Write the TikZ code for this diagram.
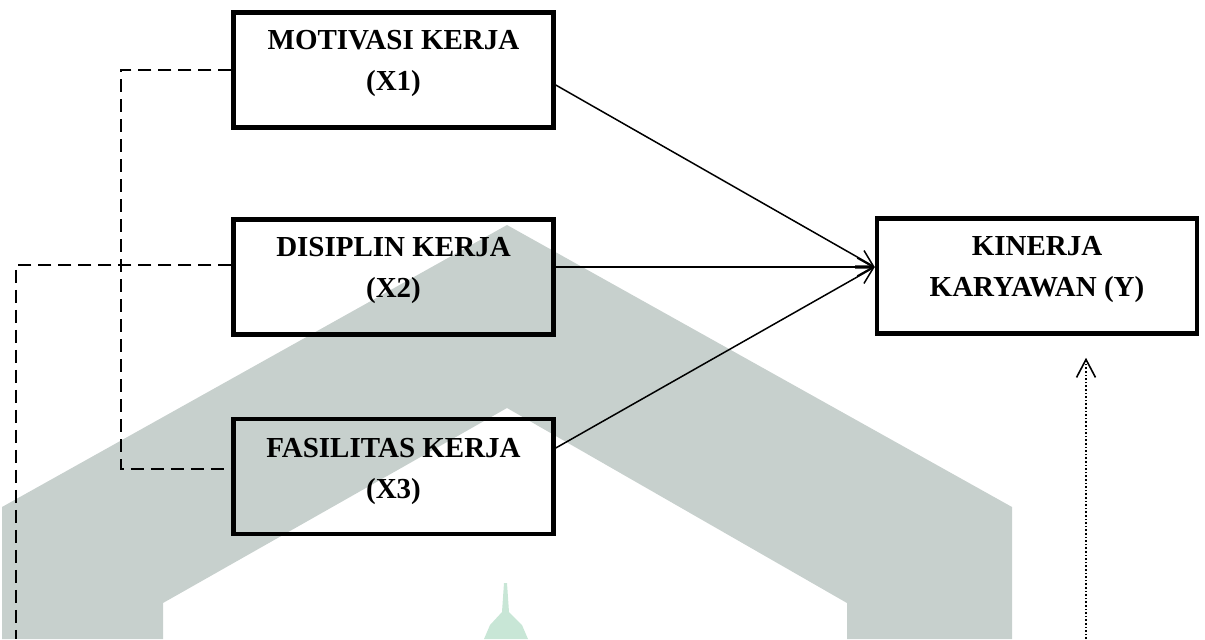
\documentclass[tikz,border=0pt]{standalone}
\usepackage{fontspec}
\setmainfont{Liberation Serif}
\usetikzlibrary{arrows.meta}

\definecolor{wmgray}{RGB}{199,208,205}
\definecolor{wmgreen}{RGB}{200,230,214}

\tikzset{
    varbox/.style={draw, line width=2.25pt, minimum width=160pt, minimum height=57.5pt, inner sep=0pt},
    vartext/.style={anchor=north, align=center, inner sep=0pt, font=\fontsize{14.5}{20.5}\selectfont\bfseries},
    arrowline/.style={line width=0.75pt, -{Straight Barb[length=8pt,width=9pt]}},
    dashline/.style={line width=1pt, dash pattern=on 6.5pt off 3.5pt},
    dotline/.style={line width=0.8pt, densely dotted, -{Straight Barb[length=9pt,width=9.5pt]}}
}

\begin{document}
\begin{tikzpicture}[x=0.5pt, y=-0.5pt]
            \useasboundingbox (0,0) rectangle (1205,639);
            % watermark
            \fill[wmgray] (2,639) -- (2,507) -- (507,225) -- (1012,507) -- (1012,639) -- (847,639)
                -- (847,603) -- (507,408) -- (163,603) -- (163,639) -- cycle;
            \fill[wmgreen] (504,583) -- (507,583) -- (509,612) -- (522,625) -- (528,639)
                -- (484,639) -- (490,625) -- (502,612) -- cycle;

            \node[varbox] (x1) at (393.5,70) {};
            \node[vartext] (x1text) at ([yshift=-10pt]x1.north) {MOTIVASI KERJA\\(X1)};
            \node[varbox] (x2) at (393.5,277) {};
            \node[vartext] (x2text) at ([yshift=-10pt]x2.north) {DISIPLIN KERJA\\(X2)};
            \node[varbox] (x3) at (393.5,476.5) {};
            \node[vartext] (x3text) at ([yshift=-10.5pt]x3.north) {FASILITAS KERJA\\(X3)};
            \node[varbox] (kinerja) at (1037,276) {};
            \node[vartext] (kinerjatext) at ([yshift=-10pt]kinerja.north) {KINERJA\\KARYAWAN (Y)};

            % pengaruh X -> Y
            \coordinate (hub) at ([yshift=4.5pt]kinerja.west);
            \draw[arrowline] ([yshift=-7.5pt]x1.east) -- (hub);
            \draw[arrowline] ([yshift=5pt]x2.east) -- (hub);
            \draw[arrowline] ([yshift=14.25pt]x3.east) -- (hub);

            % garis putus-putus
            \coordinate (bus) at (120.5,0);
            \coordinate (x3in) at ([yshift=3.75pt]x3.west);
            \draw[dashline] (x1.west) -- (x1.west -| bus) -- (x3in -| bus) -- (x3in);
            \coordinate (x2in) at ([yshift=6pt]x2.west);
            \coordinate (lowleft) at (16,639);
            \draw[dashline] (x2in) -- (x2in -| lowleft) -- (lowleft);

            \coordinate (lowright) at (1086,639);
            \draw[dotline] (lowright) -- ([yshift=-11pt]kinerja.south -| lowright);
        \end{tikzpicture}
\end{document}
